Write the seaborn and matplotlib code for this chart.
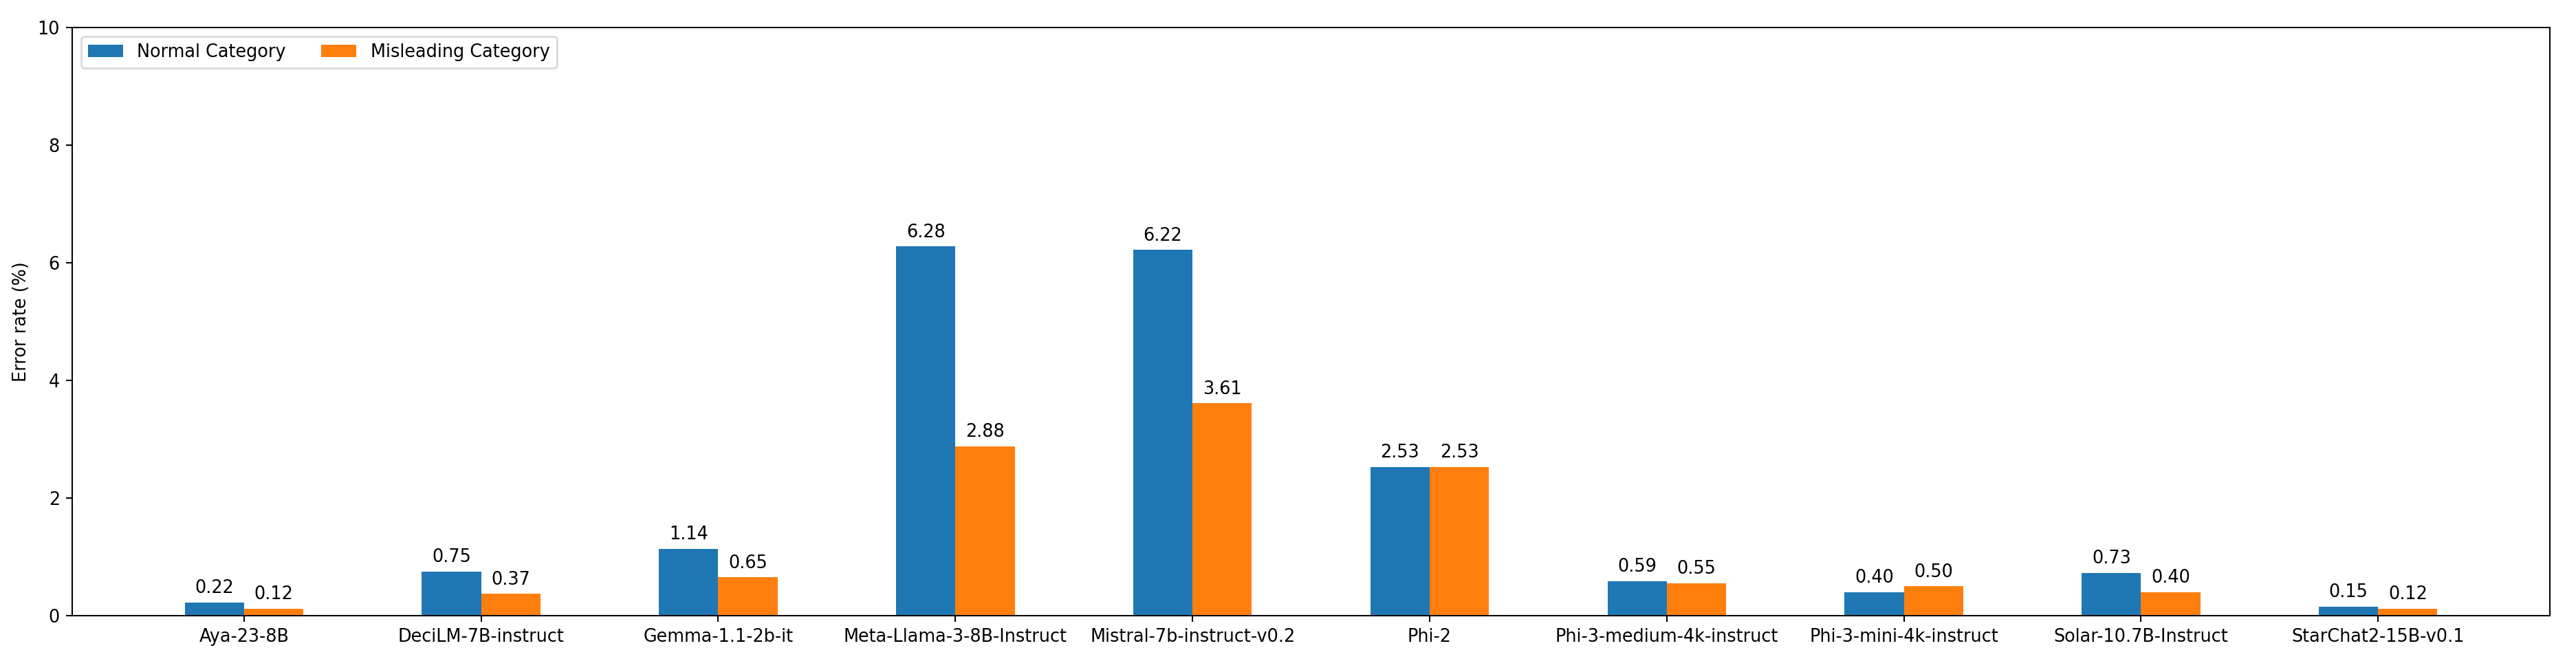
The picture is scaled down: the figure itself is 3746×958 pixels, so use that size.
import pandas as pd
import matplotlib
matplotlib.use("Agg")
import matplotlib.pyplot as plt
import seaborn as sns

# Error rates per model (%)
models = [
    "Aya-23-8B", "DeciLM-7B-instruct", "Gemma-1.1-2b-it", "Meta-Llama-3-8B-Instruct",
    "Mistral-7b-instruct-v0.2", "Phi-2", "Phi-3-medium-4k-instruct",
    "Phi-3-mini-4k-instruct", "Solar-10.7B-Instruct", "StarChat2-15B-v0.1",
]
normal_rates = [0.22, 0.75, 1.14, 6.28, 6.22, 2.53, 0.59, 0.40, 0.73, 0.15]
misleading_rates = [0.12, 0.37, 0.65, 2.88, 3.61, 2.53, 0.55, 0.50, 0.40, 0.12]
series_names = ["Normal Category", "Misleading Category"]
yticks = [0, 2, 4, 6, 8, 10]

# Long format for seaborn
df = pd.concat([
    pd.DataFrame({"model": models, "rate": normal_rates, "category": series_names[0]}),
    pd.DataFrame({"model": models, "rate": misleading_rates, "category": series_names[1]}),
])

dpi = 184
fig = plt.figure(figsize=(3746 / dpi, 958 / dpi), dpi=dpi)
ax = fig.add_subplot(111)
fig.subplots_adjust(left=0.028, right=0.9899, bottom=0.0658, top=0.958)

sns.barplot(data=df, x="model", y="rate", hue="category", order=models,
            hue_order=series_names, palette=["#1f77b4", "#ff7f0e"],
            saturation=1, width=0.5, errorbar=None, ax=ax)

# value labels on top of bars
for container in ax.containers:
    ax.bar_label(container, fmt="%.2f", padding=3, fontsize=10)

ax.set_xlim(-0.725, len(models) - 1 + 0.725)
ax.set_ylim(0, 10)
ax.set_yticks(yticks)
ax.set_xlabel("")
ax.set_ylabel("Error rate (%)", fontsize=10)
ax.tick_params(labelsize=10)
sns.move_legend(ax, "upper left", ncol=2, title=None, fontsize=10)

plt.savefig("out.png", dpi=dpi)
plt.close()
